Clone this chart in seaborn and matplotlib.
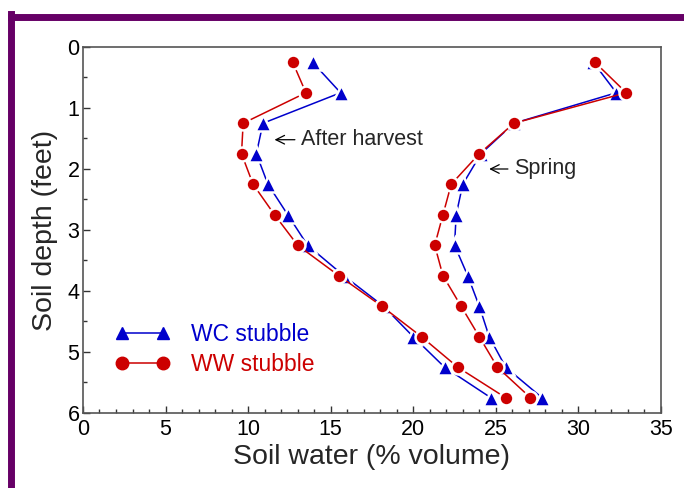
import numpy as np
import pandas as pd
import matplotlib
matplotlib.use("Agg")
import matplotlib.pyplot as plt
from matplotlib.lines import Line2D
import seaborn as sns

# depth of each sample (feet)
depth = [0.25, 0.75, 1.25, 1.75, 2.25, 2.75, 3.25, 3.75, 4.25, 4.75, 5.25, 5.75]

# soil water (% volume)
wc_harvest = [13.9, 15.6, 10.9, 10.5, 11.2, 12.4, 13.6, 15.8, 18.2, 20.0, 21.9, 24.7]
ww_harvest = [12.7, 13.5, 9.7, 9.6, 10.3, 11.6, 13.0, 15.5, 18.1, 20.5, 22.7, 25.6]
wc_spring = [30.9, 32.3, 26.1, 24.1, 23.0, 22.6, 22.5, 23.3, 24.0, 24.6, 25.6, 27.8]
ww_spring = [31.0, 32.9, 26.1, 24.0, 22.3, 21.8, 21.3, 21.8, 22.9, 24.0, 25.1, 27.1]

blue = "#0000cc"
red = "#cc0000"

sns.set_style("ticks")
plt.rcParams["font.family"] = ["Liberation Sans", "DejaVu Sans"]

fig = plt.figure(figsize=(6.84, 4.88), dpi=100)
ax = fig.add_axes([0.1213, 0.1537, 0.845, 0.75])

series = [
    (wc_harvest, blue, "^", 11),
    (ww_harvest, red, "o", 10),
    (wc_spring, blue, "^", 11),
    (ww_spring, red, "o", 10),
]
for vals, col, mk, ms in series:
    df = pd.DataFrame({"water": vals, "depth": depth})
    sns.lineplot(data=df, x="water", y="depth", sort=False, orient="y",
                 color=col, marker=mk, markersize=ms, markeredgecolor="white",
                 markeredgewidth=1.8, linewidth=1.1, ax=ax, legend=False)

ax.set_xlim(0, 35)
ax.set_ylim(6, 0)
ax.set_xticks(np.arange(0, 36, 5))
ax.set_xticks(np.arange(0, 36, 1), minor=True)
ax.set_yticks(np.arange(0, 7, 1))
ax.set_yticks(np.arange(0, 6.1, 0.5), minor=True)
ax.tick_params(direction="in", labelsize=15.5, length=5, width=1, colors="#333333",
               labelcolor="black")
ax.tick_params(axis="x", pad=4)
ax.tick_params(axis="y", pad=2.5)
ax.tick_params(which="minor", direction="in", length=3, width=1, colors="#333333")
for sp in ax.spines.values():
    sp.set_color("#555555")
    sp.set_linewidth(1.2)
ax.set_xlabel("Soil water (% volume)", fontsize=20.5, labelpad=3)
ax.set_ylabel("Soil depth (feet)", fontsize=20.5, labelpad=7)

ax.annotate("After harvest", xy=(11.6, 1.52), xytext=(13.2, 1.52),
            fontsize=15.5, va="center",
            arrowprops=dict(arrowstyle="->", color="black", lw=0.9,
                            shrinkA=2, shrinkB=0))
ax.annotate("Spring", xy=(24.6, 2.0), xytext=(26.1, 2.0),
            fontsize=15.5, va="center",
            arrowprops=dict(arrowstyle="->", color="black", lw=0.9,
                            shrinkA=2, shrinkB=0))

handles = [
    Line2D([0], [0], color=blue, marker="^", markersize=9, lw=1.1),
    Line2D([0], [0], color=red, marker="o", markersize=9, lw=1.1),
]
leg = ax.legend(handles, ["WC stubble", "WW stubble"], loc="lower left",
                bbox_to_anchor=(0.02, 0.046), frameon=False, fontsize=16.5,
                numpoints=2, handlelength=2.4, handletextpad=0.9,
                labelspacing=0.3)
for txt, col in zip(leg.get_texts(), [blue, red]):
    txt.set_color(col)

# purple frame around the picture
frame = "#660066"
fig.add_artist(Line2D([11 / 684, 11 / 684], [0, 1 - 14 / 488], color=frame,
                      lw=5, transform=fig.transFigure, solid_capstyle="projecting"))
fig.add_artist(Line2D([11 / 684, 1], [1 - 17 / 488, 1 - 17 / 488], color=frame,
                      lw=5, transform=fig.transFigure, solid_capstyle="projecting"))

fig.savefig("out.png", dpi=100)
